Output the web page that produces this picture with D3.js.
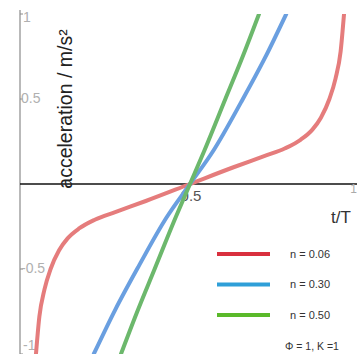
<!DOCTYPE html>
<html lang="en">
<head>
    <meta charset="utf-8">
    <title>acceleration vs t/T</title>
    <script src="https://d3js.org/d3.v7.min.js"></script>
    <style>
        body { margin: 0; background: #fff; }
        svg { display: block; font-family: "Liberation Sans", Arial, sans-serif; }
    </style>
</head>
<body>
    <svg width="357" height="354" id="mainsvg"></svg>
    <script>
        // values (t/T, acceleration)
        const seriesNames = ['n = 0.06', 'n = 0.30', 'n = 0.50'];
        const redT = [0.047, 0.057, 0.072, 0.09, 0.115, 0.14, 0.175, 0.22, 0.28, 0.37, 0.5, 0.63, 0.72, 0.78, 0.825, 0.86, 0.885, 0.91, 0.928, 0.943, 0.953];
        const redA = [-1, -0.78, -0.62, -0.5, -0.39, -0.32, -0.26, -0.21, -0.165, -0.1, 0, 0.1, 0.165, 0.21, 0.26, 0.32, 0.39, 0.5, 0.62, 0.78, 1];
        const blueT = [0.217, 0.28, 0.35, 0.43, 0.5, 0.57, 0.65, 0.72, 0.783];
        const blueA = [-1, -0.74, -0.48, -0.2, 0, 0.2, 0.48, 0.74, 1];
        const greenT = [0.297, 0.345, 0.396, 0.457, 0.5, 0.543, 0.604, 0.655, 0.703];
        const greenA = [-1, -0.75, -0.5, -0.2, 0, 0.2, 0.5, 0.75, 1];
        const yTicks = [-1, -0.5, 0.5, 1];
        const xTicks = [0.5, 1];

        const curveColors = ['#e57c7c', '#6a9fe0', '#6cb86c'];
        const legendColors = ['#d9303e', '#2f9fd8', '#5ab92a'];

        const svg = d3.select('#mainsvg');
        const width = +svg.attr('width');
        const height = +svg.attr('height');

        const xScale = d3.scaleLinear().domain([0, 1]).range([20, 360]);
        const yScale = d3.scaleLinear().domain([-1, 1]).range([354, 14]);

        // y axis (grey, labels on the right of the line)
        const yAxisGroup = svg.append('g').attr('transform', `translate(${xScale(0)},0)`);
        yAxisGroup.append('line')
            .attr('x1', 0).attr('x2', 0)
            .attr('y1', 10).attr('y2', height)
            .attr('stroke', '#8a8a8a').attr('stroke-width', 1.2);
        yAxisGroup.selectAll('.ytick').data(yTicks).enter().append('line')
            .attr('class', 'ytick')
            .attr('x1', 0).attr('x2', 3)
            .attr('y1', d => yScale(d)).attr('y2', d => yScale(d))
            .attr('stroke', '#8a8a8a');
        yAxisGroup.selectAll('.ylabel').data(yTicks).enter().append('text')
            .attr('class', 'ylabel')
            .attr('x', d => Math.abs(d) === 1 ? 3 : 1)
            .attr('y', d => d === 1 ? yScale(d) + 3 : (d === -1 ? yScale(d) - 9 : yScale(d) - 1))
            .attr('dy', '0.35em')
            .attr('font-size', 14)
            .attr('fill', '#b0b0b0')
            .text(d => d);

        // plotted curves
        const clip = svg.append('clipPath').attr('id', 'plotclip');
        clip.append('rect')
            .attr('x', xScale(0)).attr('y', yScale(1))
            .attr('width', width - xScale(0)).attr('height', yScale(-1) - yScale(1));

        const series = [
            redT.map((t, i) => ({ t: t, a: redA[i] })),
            blueT.map((t, i) => ({ t: t, a: blueA[i] })),
            greenT.map((t, i) => ({ t: t, a: greenA[i] }))
        ];

        const line = d3.line()
            .x(d => xScale(d.t))
            .y(d => yScale(d.a))
            .curve(d3.curveMonotoneX);

        // x axis (black)
        const xAxisGroup = svg.append('g').attr('transform', `translate(0,${yScale(0)})`);
        xAxisGroup.append('line')
            .attr('x1', xScale(0)).attr('x2', width)
            .attr('y1', 0).attr('y2', 0)
            .attr('stroke', '#111').attr('stroke-width', 1.5);
        xAxisGroup.selectAll('.xlabel').data(xTicks).enter().append('text')
            .attr('class', 'xlabel')
            .attr('x', d => d === 1 ? width : xScale(d) + 1)
            .attr('y', d => d === 1 ? 9 : 17)
            .attr('text-anchor', d => d === 1 ? 'end' : 'middle')
            .attr('font-size', d => d === 1 ? 12 : 15)
            .attr('fill', d => d === 1 ? '#aaa' : '#555')
            .text(d => d);
        xAxisGroup.append('text')
            .attr('x', 341)
            .attr('y', 39)
            .attr('text-anchor', 'middle')
            .attr('font-size', 17)
            .attr('fill', '#333')
            .text('t/T');

        svg.append('g').attr('clip-path', 'url(#plotclip)')
            .selectAll('path').data(series).enter().append('path')
            .attr('d', line)
            .attr('fill', 'none')
            .attr('stroke', (d, i) => curveColors[i])
            .attr('stroke-width', 4)
            .attr('stroke-linecap', 'round');

        // y axis title
        svg.append('text')
            .attr('transform', 'translate(72,109) rotate(-90)')
            .attr('text-anchor', 'middle')
            .attr('font-size', 19.5)
            .attr('fill', '#222')
            .text('acceleration / m/s²');

        // legend
        const legend = svg.selectAll('.legend').data(seriesNames).enter().append('g')
            .attr('class', 'legend')
            .attr('transform', (d, i) => `translate(217,${254 + i * 30.5})`);
        legend.append('line')
            .attr('x1', 0).attr('x2', 53)
            .attr('y1', 0).attr('y2', 0)
            .attr('stroke', (d, i) => legendColors[i])
            .attr('stroke-width', 4);
        legend.append('text')
            .attr('x', 73).attr('y', 0)
            .attr('dy', '0.35em')
            .attr('font-size', 11)
            .attr('fill', '#333')
            .text(d => d);
        svg.append('text')
            .attr('x', 285).attr('y', 346)
            .attr('dy', '0.35em')
            .attr('font-size', 10.5)
            .attr('fill', '#333')
            .text('Φ = 1, K =1');
    </script>
</body>
</html>
